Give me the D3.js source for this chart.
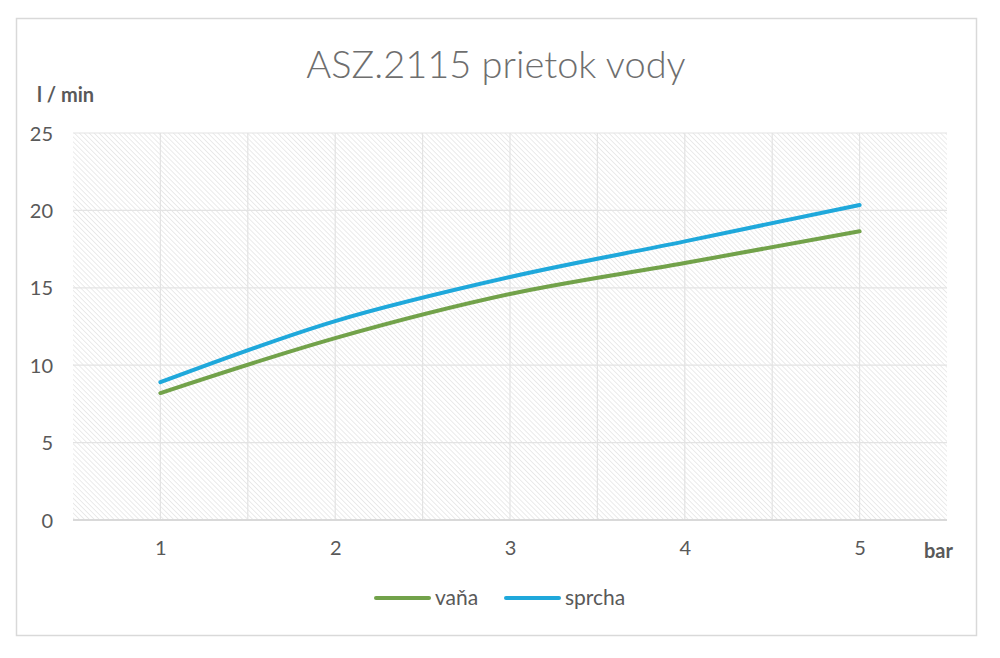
<!DOCTYPE html>
<html>
<head>
<meta charset="utf-8">
<script src="https://cdn.jsdelivr.net/npm/d3@7"></script>
<style>
  body { margin: 0; background: #fff; }
  text { font-family: Lato, "Open Sans", sans-serif; fill: #595959; }
</style>
</head>
<body>
<div id="chart"></div>
<script>
// data
var tlak = [1, 2, 3, 4, 5];                       // bar
var vana = [8.2, 11.75, 14.6, 16.6, 18.65];        // l / min
var sprcha = [8.9, 12.85, 15.7, 18.0, 20.35];
var yTicks = [0, 5, 10, 15, 20, 25];
var nazvy = ["vaňa", "sprcha"];
var farby = ["#72a24a", "#1fa8db"];

var width = 1000, height = 658;
var svg = d3.select("#chart")
			.append("svg")
			.attr("width", width)
			.attr("height", height);

// diagonal hatch for plot background
var defs = svg.append("defs");
var pat = defs.append("pattern")
			.attr("id", "hatch")
			.attr("patternUnits", "userSpaceOnUse")
			.attr("width", 3.5)
			.attr("height", 3.5)
			.attr("patternTransform", "rotate(-45)");
pat.append("rect").attr("width", 3.5).attr("height", 3.5).attr("fill", "#fff");
pat.append("line")
	.attr("x1", 0).attr("y1", 0).attr("x2", 0).attr("y2", 3.5)
	.attr("stroke", "#dedede")
	.attr("stroke-width", 1.2);

// outer frame
svg.append("rect")
	.attr("x", 16.5).attr("y", 18.5)
	.attr("width", 960).attr("height", 617)
	.attr("fill", "#fff")
	.attr("stroke", "#d9d9d9")
	.attr("stroke-width", 1.5);

var x = d3.scaleLinear().domain([0.5, 5.5]).range([73, 947]);
var y = d3.scaleLinear().domain([0, 25]).range([520, 133]);

svg.append("rect")
	.attr("x", x(0.5)).attr("y", y(25))
	.attr("width", x(5.5) - x(0.5))
	.attr("height", y(0) - y(25))
	.attr("fill", "url(#hatch)");

// gridlines
var vx = d3.range(1, 5.01, 0.5);
svg.append("g").selectAll("line")
	.data(vx)
	.enter().append("line")
	.attr("x1", function(d){ return x(d); })
	.attr("x2", function(d){ return x(d); })
	.attr("y1", y(25)).attr("y2", y(0))
	.attr("stroke", "#e3e3e3")
	.attr("stroke-width", 1.2);

svg.append("g").selectAll("line")
	.data(yTicks.slice(1))
	.enter().append("line")
	.attr("x1", x(0.5)).attr("x2", x(5.5))
	.attr("y1", function(d){ return y(d); })
	.attr("y2", function(d){ return y(d); })
	.attr("stroke", "#e3e3e3")
	.attr("stroke-width", 1.2);

// baseline
svg.append("line")
	.attr("x1", x(0.5)).attr("x2", x(5.5))
	.attr("y1", y(0)).attr("y2", y(0))
	.attr("stroke", "#d9d9d9")
	.attr("stroke-width", 2);

// axes (labels only)
var yAxis = svg.append("g")
	.attr("transform", "translate(" + 53 + ",0)")
	.call(d3.axisLeft(y).tickValues(yTicks).tickSize(0).tickPadding(0));
yAxis.select(".domain").remove();
yAxis.selectAll("text")
	.style("font-size", "20px")
	.style("fill", "#595959")
	.attr("dy", "0.35em");

var xAxis = svg.append("g")
	.attr("transform", "translate(0," + 541 + ")")
	.call(d3.axisBottom(x).tickValues(tlak).tickFormat(d3.format("d")).tickSize(0).tickPadding(0));
xAxis.select(".domain").remove();
xAxis.selectAll("text")
	.style("font-size", "20px")
	.style("fill", "#595959");

// lines
var line = d3.line()
	.x(function(d, i){ return x(tlak[i]); })
	.y(function(d){ return y(d); })
	.curve(d3.curveMonotoneX);

[vana, sprcha].forEach(function(s, k){
	svg.append("path")
		.datum(s)
		.attr("d", line)
		.attr("fill", "none")
		.attr("stroke", farby[k])
		.attr("stroke-width", 4)
		.attr("stroke-linecap", "round");
});

// titles
svg.append("text")
	.attr("x", 496).attr("y", 78)
	.attr("text-anchor", "middle")
	.style("font-size", "38px")
	.style("font-weight", 300)
	.style("fill", "#6e6e6e")
	.text("ASZ.2115 prietok vody");

svg.append("text")
	.attr("x", 37).attr("y", 102)
	.style("font-size", "20px")
	.style("font-weight", "bold")
	.text("l / min");

svg.append("text")
	.attr("x", 924).attr("y", 558)
	.style("font-size", "20px")
	.style("font-weight", "bold")
	.text("bar");

// legend
var legX = [376, 506];
var leg = svg.append("g").selectAll("g")
	.data(nazvy)
	.enter().append("g")
	.attr("transform", function(d, i){ return "translate(" + legX[i] + ",598)"; });
leg.append("line")
	.attr("x1", 0).attr("x2", 53)
	.attr("stroke", function(d, i){ return farby[i]; })
	.attr("stroke-width", 4)
	.attr("stroke-linecap", "round");
leg.append("text")
	.attr("x", 59).attr("dy", "0.35em")
	.style("font-size", "21px")
	.text(function(d){ return d; });
</script>
</body>
</html>
